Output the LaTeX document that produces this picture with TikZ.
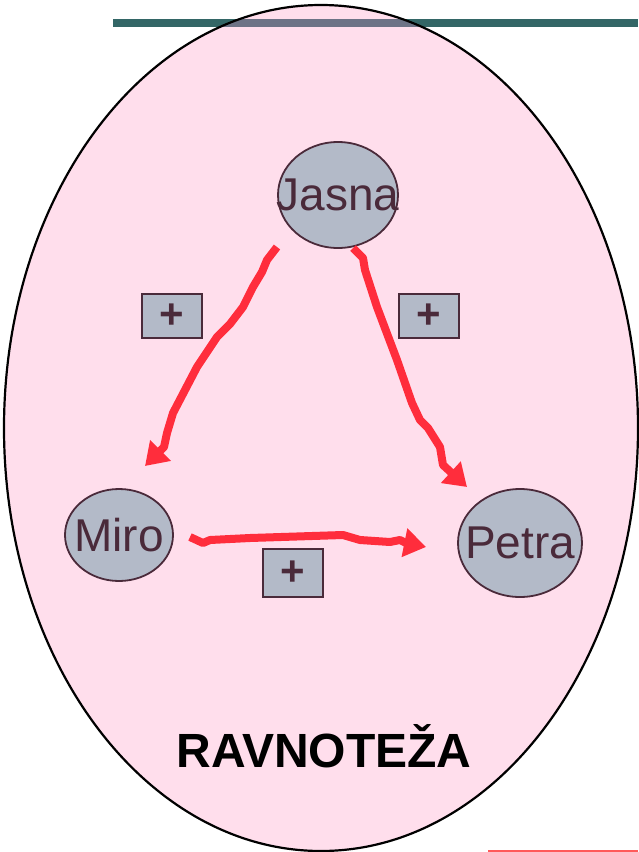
\documentclass[tikz,border=0pt]{standalone}
\usepackage{fontspec}
\setmainfont{Liberation Sans}
\usetikzlibrary{arrows.meta,shapes.geometric}
\definecolor{pinkbg}{HTML}{FFDEEC}
\definecolor{teal}{HTML}{336666}
\definecolor{barmix}{HTML}{6D7386}
\definecolor{nodefill}{HTML}{B3BAC8}
\definecolor{nodeline}{HTML}{4A2A3A}
\definecolor{arrowred}{HTML}{FF2D3C}
\definecolor{rulered}{HTML}{FF5A5A}
\tikzset{
  person/.style={ellipse, draw=nodeline, line width=1.8pt, fill=nodefill, text=nodeline,
    inner sep=0pt, font=\fontsize{46}{46}\selectfont},
  signbox/.style={draw=nodeline, line width=2pt, fill=nodefill, text=nodeline,
    minimum width=60pt, minimum height=44pt, inner sep=0pt,
    font=\fontsize{42}{42}\selectfont},
  rel/.style={draw=arrowred, line width=8pt, line join=round, line cap=butt,
    -{Triangle[length=22pt, width=28pt]}},
}
\newcommand{\overhang}[1]{\makebox[0pt]{#1}}
\begin{document}
\begin{tikzpicture}[x=1pt, y=-1pt]
\useasboundingbox (0,0) rectangle (638,852);
% big background oval
\fill[pinkbg] (321,428) ellipse [x radius=317, y radius=423];
% header rule, tinted where it crosses the oval
\fill[teal] (113,19) rectangle (638,27);
\begin{scope}
  \clip (321,428) ellipse [x radius=317, y radius=423];
  \fill[barmix] (113,19) rectangle (638,27);
\end{scope}
\draw[line width=2.2pt] (321,428) ellipse [x radius=317, y radius=423];
\draw[rulered, line width=1.5pt] (488,851) -- (638,851);

% persons
\node[person, minimum width=120pt, minimum height=106pt] (jasna) at (338,195) {\overhang{Jasna}};
\node[person, minimum width=108pt, minimum height=92pt] (miro) at (119,535) {\overhang{Miro}};
\node[person, minimum width=124pt, minimum height=108pt] (petra) at (520,543) {\overhang{Petra}};

% signs
\node[signbox] (s1) at (172,316) {\textbf{+}};
\node[signbox] (s2) at (429,316) {\textbf{+}};
\node[signbox, minimum height=48pt] (s3) at (293,573) {\textbf{+}};

% loose ends of the hand drawn strokes
\coordinate (jm-from) at (277,247);
\coordinate (jm-to) at (145,466);
\coordinate (jp-from) at (353,248);
\coordinate (jp-to) at (467,487);
\coordinate (mp-from) at (190,537);
\coordinate (mp-to) at (426,547);

% relations
\draw[rel] (jm-from) -- (267,260) -- (262,272) -- (253,287) -- (243,307)
  -- (230,324) -- (217,337) -- (197,367) -- (173,413) -- (167,433) -- (164,447) -- (jm-to);
\draw[rel] (jp-from) -- (363,258) -- (365,270) -- (377,307) -- (397,360)
  -- (412,403) -- (420,420) -- (428,428) -- (440,447) -- (443,465) -- (jp-to);
\draw[rel] (mp-from) -- (203,543) -- (210,540) -- (250,538) -- (343,535)
  -- (360,540) -- (390,542) -- (400,540) -- (406,543) -- (mp-to);

\node[font=\bfseries\fontsize{48}{48}\selectfont] (title) at (324,746) {RAVNOTEŽA};
\end{tikzpicture}
\end{document}
